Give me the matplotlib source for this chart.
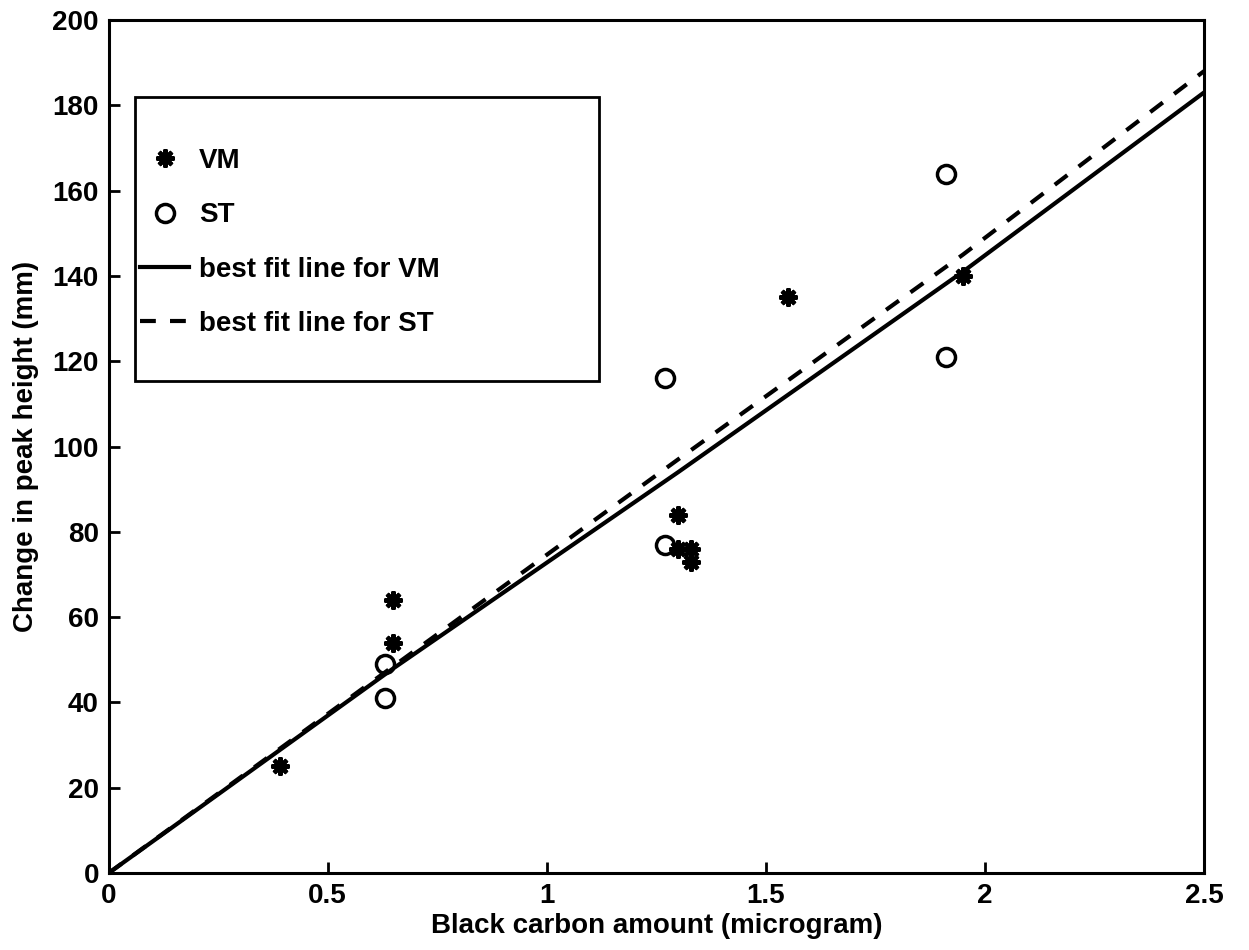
import matplotlib
matplotlib.use("Agg")
import matplotlib.pyplot as plt
from matplotlib.patches import Rectangle

# data
vm_x = [0.39, 0.65, 0.65, 1.30, 1.30, 1.33, 1.33, 1.55, 1.95]
vm_y = [25, 64, 54, 84, 76, 76, 73, 135, 140]
st_x = [0.63, 0.63, 1.27, 1.27, 1.91, 1.91]
st_y = [49, 41, 116, 77, 164, 121]

# best fit lines
fit_x = [0, 0.65, 1.3, 1.95, 2.5]
vm_fit = [0, 48, 94, 141, 183]
st_fit = [0, 48.5, 97, 145, 188]

xticks = [0, 0.5, 1, 1.5, 2, 2.5]
xticklabels = ['0', '0.5', '1', '1.5', '2', '2.5']
yticks = [0, 20, 40, 60, 80, 100, 120, 140, 160, 180, 200]

plt.rcParams['font.family'] = ['Liberation Sans', 'DejaVu Sans']
plt.rcParams['font.weight'] = 'bold'
fs = 20

fig = plt.figure(figsize=(12.49, 9.5), dpi=100)
ax = fig.add_axes([0.087, 0.081, 0.877, 0.898])

ax.plot(vm_x, vm_y, linestyle='none', marker=(8, 2, 0), markersize=13,
        markeredgewidth=3, color='black', label='VM')
ax.plot(st_x, st_y, linestyle='none', marker='o', markersize=13,
        markerfacecolor='none', markeredgewidth=2.5, color='black', label='ST')
ax.plot(fit_x, vm_fit, '-', color='black', linewidth=3, label='best fit line for VM')
ax.plot(fit_x, st_fit, '--', color='black', linewidth=3, dashes=(3.8, 3.4),
        label='best fit line for ST')

ax.set_xlim(0, 2.5)
ax.set_ylim(0, 200)
ax.set_xticks(xticks)
ax.set_xticklabels(xticklabels)
ax.set_yticks(yticks)
ax.tick_params(direction='in', length=8, width=2, labelsize=fs, pad=7)
for s in ax.spines.values():
    s.set_linewidth(2.2)

ax.set_xlabel('Black carbon amount (microgram)', fontsize=fs, fontweight='bold')
ax.set_ylabel('Change in peak height (mm)', fontsize=fs, fontweight='bold')
ax.xaxis.set_label_coords(0.5, -0.047)
ax.yaxis.set_label_coords(-0.064, 0.5)

# legend box drawn separately so it can be sized like the original
ax.add_patch(Rectangle((0.024, 0.577), 0.424, 0.333, transform=ax.transAxes,
                       fill=False, edgecolor='black', linewidth=2, zorder=5))
ax.legend(loc='upper left', bbox_to_anchor=(0.029, 0.85), fontsize=fs,
          frameon=False, borderpad=0, borderaxespad=0, labelspacing=1.02,
          handlelength=1.75, handletextpad=0.35)

fig.savefig('out.png', dpi=100)
